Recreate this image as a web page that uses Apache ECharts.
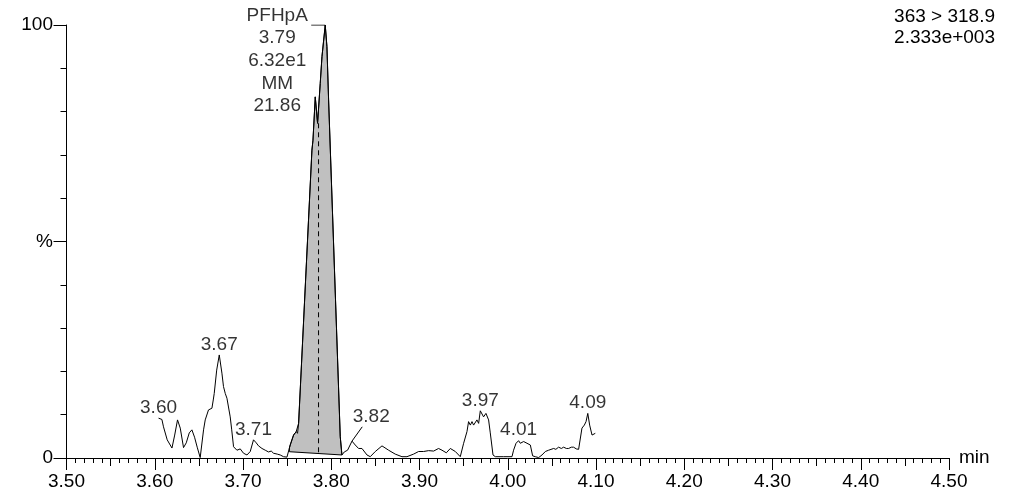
<!DOCTYPE html>
<html><head><meta charset="utf-8">
<script src="https://cdn.jsdelivr.net/npm/echarts@6/dist/echarts.min.js"></script>
<style>html,body{margin:0;padding:0;background:#fff}#c{width:1015px;height:495px}</style>
</head><body><div id="c"></div>
<script>
// Chromatogram trace: retention time (min) and relative intensity (%)
const times = [3.6043,3.6081,3.6099,3.6141,3.6195,3.6226,3.6258,3.6289,3.6326,3.6357,3.6391,3.6421,3.6451,3.6481,3.6515,3.6553,3.6572,3.6609,3.6648,3.6663,3.6674,3.6702,3.6731,3.6761,3.6779,3.6799,3.6818,3.6829,3.6855,3.6872,3.6893,3.6931,3.6969,3.7006,3.7045,3.7082,3.7119,3.7150,3.7176,3.7215,3.7252,3.7289,3.7320,3.7346,3.7388,3.7422,3.7459,3.7498,3.7535,3.7573,3.7603,3.7618,3.7630,3.7781,3.7793,3.7819,3.7845,3.7875,3.7895,3.7932,3.7951,3.7970,3.8102,3.8121,3.8148,3.8185,3.8235,3.8272,3.8310,3.8348,3.8405,3.8442,3.8499,3.8575,3.8650,3.8725,3.8801,3.8858,3.8933,3.8990,3.9046,3.9103,3.9160,3.9216,3.9255,3.9273,3.9304,3.9349,3.9406,3.9462,3.9500,3.9538,3.9556,3.9576,3.9595,3.9613,3.9651,3.9670,3.9689,3.9726,3.9753,3.9783,3.9802,3.9833,3.9859,3.9950,4.0048,4.0066,4.0094,4.0123,4.0142,4.0162,4.0180,4.0218,4.0256,4.0282,4.0312,4.0350,4.0388,4.0426,4.0463,4.0482,4.0520,4.0545,4.0576,4.0607,4.0633,4.0664,4.0690,4.0720,4.0746,4.0777,4.0803,4.0822,4.0841,4.0868,4.0887,4.0907,4.0928,4.0955,4.0992];
const intensity = [9.2,8.9,7.2,4.2,2.3,5.3,8.8,6.9,2.4,3.5,5.8,6.5,4.8,2.5,0.1,6.5,8.8,11.1,11.5,13.4,14.9,20.3,23.8,19.6,16.5,14.9,13.8,13.4,9.5,6.5,2.6,1.8,2.1,1.1,0.7,1.5,4.2,3.5,2.8,2.2,1.8,1.4,1.6,1.1,0.9,0.7,0.3,0.2,3.0,5.3,6.1,5.7,8.0,71.1,73.4,83.4,77.3,86.5,92.7,100,95.0,82.7,4.9,0.7,1.4,1.8,3.9,3.0,2.2,2.2,0.7,0.3,1.5,2.8,1.8,0.9,0.3,0.3,0.9,1.5,1.5,1.7,1.6,2.2,1.8,2.2,1.2,2.2,1.5,0.3,3.4,6.1,8.4,7.6,8.4,7.6,8.8,8.0,10.9,9.5,10.3,8.8,5.8,0.7,0.3,0.3,0.3,1.8,3.4,4.0,3.4,3.0,3.8,3.4,3.0,0.5,0.3,0.1,0.7,1.5,1.8,1.6,2.2,2.0,2.5,2.2,2.5,2.2,2.2,2.5,2.5,2.1,2.0,2.2,6.9,7.6,8.4,10.3,7.6,5.3,5.7];

// Integrated peak (PFHpA): start/end times and baseline levels
const peakStartTime = 3.7526, peakEndTime = 3.8121;
const peakBaseStart = 1.45, peakBaseEnd = 0.7;
const peakRT = 3.7856, peakMarkerTop = 77.3;
const peakApex = [3.7932, 100];
const peakLeaderStart = [3.7773, 100];
const peakInfoLines = ['PFHpA', '3.79', '6.32e1', 'MM', '21.86'];

// Small peak labels
const labelTimes = [3.6043, 3.6731, 3.7119, 3.8351, 3.9689, 4.0123, 4.0907];
const labelValues = [9.2, 23.8, 4.2, 7.2, 10.9, 4.0, 10.3];
const labelTexts = ['3.60', '3.67', '3.71', '3.82', '3.97', '4.01', '4.09'];
const leader382 = [[3.8235, 3.9], [3.8351, 7.2]];

// Axes
const xMin = 3.5, xMax = 4.5, xMajor = 0.1, xMedium = 0.05;
const yMin = 0, yMax = 100, yMajor = 50;
const yTickLabels = {0: '0', 50: '%', 100: '100'};
const headerLines = ['363 > 318.9', '2.333e+003'];

const FONT = "'Liberation Sans', Arial, sans-serif";
const FS = 19;

function interp(t) {
  for (let i = 1; i < times.length; i++) {
    if (times[i] >= t) {
      const f = (t - times[i-1]) / (times[i] - times[i-1]);
      return intensity[i-1] + f * (intensity[i] - intensity[i-1]);
    }
  }
  return intensity[intensity.length - 1];
}

const trace = times.map((t, i) => [t, intensity[i]]);
const labelData = labelTimes.map((t, i) => {
  const d = {value: [t, labelValues[i]], name: labelTexts[i]};
  if (labelTexts[i] === '3.82') d.label = {offset: [9, 0]};
  return d;
});

const chart = echarts.init(document.getElementById('c'), null, {renderer: 'canvas'});
chart.setOption({
  animation: false,
  backgroundColor: '#fff',
  textStyle: {fontFamily: FONT},
  grid: {left: 66.5, right: 66, top: 25, bottom: 37, containLabel: false},
  graphic: [{
    type: 'text', right: 20, top: 6,
    style: {text: headerLines.join('\n'), font: FS + 'px ' + FONT, fill: '#000', textAlign: 'right', lineHeight: 21}
  }],
  xAxis: [{
    type: 'value', min: xMin, max: xMax, interval: xMajor,
    name: 'min', nameLocation: 'end', nameGap: 10,
    nameTextStyle: {color: '#000', fontSize: FS, fontFamily: FONT, verticalAlign: 'middle'},
    axisLine: {lineStyle: {color: '#000', width: 1}},
    axisTick: {show: true, length: 12, lineStyle: {color: '#000'}},
    minorTick: {show: true, splitNumber: 10, length: 5, lineStyle: {color: '#000'}},
    splitLine: {show: false},
    axisLabel: {color: '#000', fontSize: FS, fontFamily: FONT, margin: 14, formatter: v => v.toFixed(2)}
  }, {
    type: 'value', min: xMin, max: xMax, interval: xMedium, position: 'bottom', gridIndex: 0,
    axisLine: {show: false},
    axisTick: {show: true, length: 8, lineStyle: {color: '#000'}},
    splitLine: {show: false},
    axisLabel: {show: false}
  }],
  yAxis: {
    type: 'value', min: yMin, max: yMax, interval: yMajor,
    axisLine: {show: true, lineStyle: {color: '#000', width: 1}},
    axisTick: {show: true, length: 13, lineStyle: {color: '#000'}},
    minorTick: {show: true, splitNumber: 5, length: 6, lineStyle: {color: '#000'}},
    splitLine: {show: false},
    axisLabel: {color: '#000', fontSize: FS, fontFamily: FONT, margin: 13.5, formatter: v => (yTickLabels[v] !== undefined ? yTickLabels[v] : '')}
  },
  series: [{
    type: 'custom', coordinateSystem: 'cartesian2d', silent: true, z: 1,
    data: [[peakStartTime, 0]],
    renderItem: (params, api) => {
      const pts = [];
      pts.push(api.coord([peakStartTime, peakBaseStart]));
      pts.push(api.coord([peakStartTime, interp(peakStartTime)]));
      for (let i = 0; i < times.length; i++) {
        if (times[i] > peakStartTime && times[i] < peakEndTime) pts.push(api.coord([times[i], intensity[i]]));
      }
      pts.push(api.coord([peakEndTime, interp(peakEndTime)]));
      pts.push(api.coord([peakEndTime, peakBaseEnd]));
      return {type: 'polygon', shape: {points: pts}, style: {fill: '#c0c0c0', stroke: '#000', lineWidth: 1}};
    }
  }, {
    type: 'line', data: trace, symbol: 'none', z: 3, silent: true,
    lineStyle: {color: '#000', width: 1}
  }, {
    type: 'line', z: 4, symbol: 'none', silent: true,
    data: [[peakRT, peakMarkerTop], [peakRT, peakBaseStart + (peakBaseEnd - peakBaseStart) * (peakRT - peakStartTime) / (peakEndTime - peakStartTime)]],
    lineStyle: {color: '#000', width: 1, type: [5, 4]}
  }, {
    type: 'line', z: 4, symbol: 'none', silent: true,
    data: [peakLeaderStart, peakApex],
    lineStyle: {color: '#000', width: 1}
  }, {
    type: 'line', z: 4, symbol: 'none', silent: true,
    data: leader382,
    lineStyle: {color: '#000', width: 1}
  }, {
    type: 'scatter', z: 5, symbolSize: 0, silent: true,
    data: labelData,
    label: {show: true, position: 'top', distance: 1, color: '#000', fontSize: FS, fontFamily: FONT, formatter: p => p.name}
  }, {
    type: 'scatter', z: 5, symbolSize: 0, silent: true,
    data: [{value: peakLeaderStart, name: peakInfoLines.join('\n')}],
    label: {show: true, position: [-34, -21], align: 'center', verticalAlign: 'top', lineHeight: 22.7,
      color: '#000', fontSize: FS, fontFamily: FONT, formatter: p => p.name}
  }]
});
</script>
</body></html>
